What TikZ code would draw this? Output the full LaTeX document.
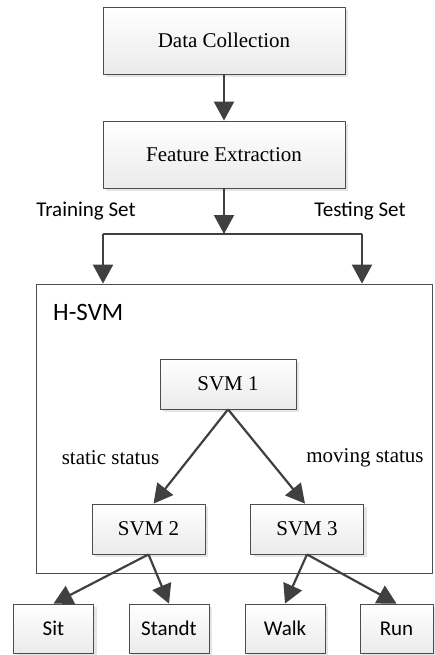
\documentclass[tikz,border=0pt]{standalone}
\usepackage{fontspec}
\setmainfont{Liberation Serif}
\newfontfamily\cali{Carlito}
\usetikzlibrary{arrows.meta,shadows}
\tikzset{
	box/.style={draw=black!70,line width=0.8pt,top color=white,bottom color=black!8,
		inner sep=0pt,drop shadow={shadow xshift=3pt,shadow yshift=-3pt,fill=black!10,opacity=1}},
	bigbox/.style={box,minimum width=242pt,minimum height=67pt},
	svmbox/.style={box,minimum width=113pt,minimum height=50pt},
	leaf/.style={box,minimum width=80pt,minimum height=49pt,font=\cali\fontsize{21}{24}\selectfont},
	arr/.style={-{Triangle[length=19pt,width=20pt]},line width=2.2pt,draw=black!75},
}
\begin{document}
\begin{tikzpicture}[x=1pt,y=-1pt,font=\fontsize{21}{24}\selectfont, line join=round]
	\useasboundingbox (0,0) rectangle (434,655);
	% upper part
	\node[bigbox] (dc) at (224,40.5) {Data Collection};
	\node[bigbox] (fe) at (224,154.5) {Feature Extraction};
	\draw[arr] (dc) -- (fe);
	\coordinate (split) at (224,234);
	\coordinate (trainc) at (103,234);
	\coordinate (testc) at (362,234);
	\node[font=\cali\fontsize{21}{24}\selectfont] (train) at (86,211) {Training Set};
	\node[font=\cali\fontsize{21}{24}\selectfont] (test) at (360,211) {Testing Set};
	% H-SVM
	\node[draw=black!70,line width=0.8pt,minimum width=396pt,minimum height=289pt,inner sep=0pt] (hsvm) at (234,428.5) {};
	\node[anchor=west,inner sep=0pt,font=\cali\fontsize{25}{28}\selectfont] (hname) at (53,312) {H-SVM};
	\draw[arr] (fe) -- (split);
	\draw[line width=2.2pt,draw=black!75] (trainc) -- (testc);
	\draw[arr] (trainc) -- (trainc |- hsvm.north);
	\draw[arr] (testc) -- (testc |- hsvm.north);
	\node[svmbox,minimum width=136pt] (svm1) at (228,384) {SVM 1};
	\node[svmbox] (svm2) at (148.5,529) {SVM 2};
	\node[svmbox] (svm3) at (307,529) {SVM 3};
	\draw[arr] (svm1.south) -- ([xshift=5pt]svm2.north);
	\draw[arr] (svm1.south) -- ([xshift=-2pt]svm3.north);
	\node (static) at (110.5,458) {static status};
	\node (moving) at (365,458) {moving status};
	% leaves
	\node[leaf] (sit) at (53.5,628.5) {Sit};
	\node[leaf] (standt) at (169,628.5) {Standt};
	\node[leaf] (walk) at (285,628.5) {Walk};
	\node[leaf,minimum width=73pt] (run) at (396.5,628.5) {Run};
	\draw[arr] (svm2.south) -- (sit.north);
	\draw[arr] (svm2.south) -- (standt.north);
	\draw[arr] (svm3.south) -- (walk.north);
	\draw[arr] (svm3.south) -- (run.north);
\end{tikzpicture}
\end{document}
